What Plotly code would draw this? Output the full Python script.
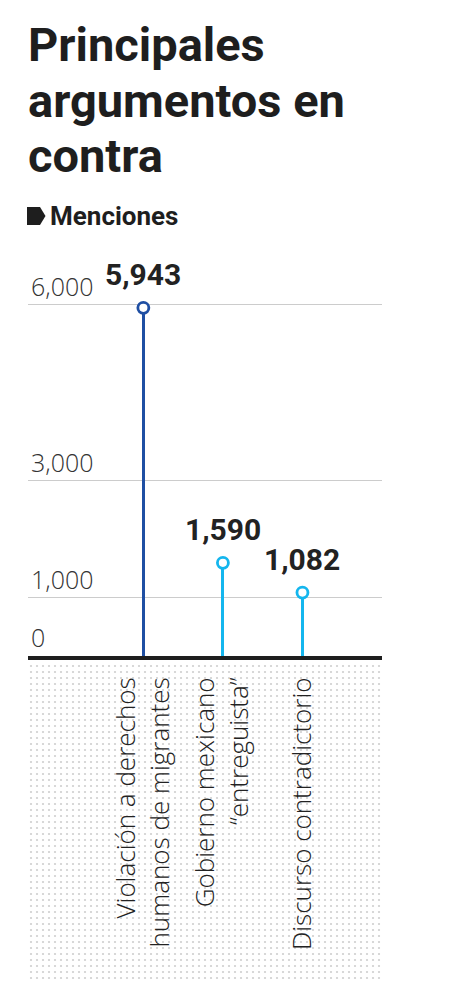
import plotly.graph_objects as go

# ---- data ----
categories = ["Violación a derechos humanos de migrantes",
              "Gobierno mexicano “entreguista”",
              "Discurso contradictorio"]
tick_labels = ["Violación a derechos<br>humanos de migrantes",
               "Gobierno mexicano<br>“entreguista”",
               "Discurso contradictorio"]
menciones = [5943, 1590, 1082]
colors = ["#1f4fa3", "#14b6ee", "#14b6ee"]
y_tickvals = [0, 1000, 3000, 6000]
title_lines = ["Principales", "argumentos en", "contra"]

# page body has an 8px margin: figure is sized to fit the window
OFF = 8
W, H = 450 - OFF, 1007 - OFF
def px(x): return (x - OFF) / W
def py(y): return 1 - (y - OFF) / H

LIGHT = "Open Sans"
BOLD = "Roboto"

fig = go.Figure()

# decorative dotted panel under the axis (first subplot so labels draw above it)
fig.add_trace(go.Bar(x=[0], y=[1], width=[1], xaxis="x", yaxis="y",
                     marker=dict(color="white", line=dict(width=0),
                                 pattern=dict(shape=".", size=6, solidity=0.1,
                                              fgcolor="#cfcfcf", bgcolor="white",
                                              fillmode="replace")),
                     hoverinfo="skip", showlegend=False))

# stems
fig.add_trace(go.Bar(x=categories, y=menciones, width=0.04, xaxis="x2", yaxis="y2",
                     marker=dict(color=colors, line=dict(width=0)),
                     hoverinfo="skip", showlegend=False))
# heads
fig.add_trace(go.Scatter(x=categories, y=menciones, mode="markers", xaxis="x2", yaxis="y2",
                         marker=dict(symbol="circle", size=11, color="white",
                                     line=dict(width=2.8, color=colors)),
                         showlegend=False))

for c, v in zip(categories, menciones):
    fig.add_annotation(x=c, y=v, xref="x2", yref="y2", text=f"{v:,}",
                       showarrow=False, yanchor="bottom", yshift=14,
                       font=dict(family=BOLD, size=30, color="#222222", weight="bold"))

# title lines
for line, yc in zip(title_lines, [45, 100, 155]):
    fig.add_annotation(x=px(26), y=py(yc), xref="paper", yref="paper", text=line,
                       showarrow=False, xanchor="left", yanchor="middle",
                       font=dict(family=BOLD, size=47, color="#1e1e1e", weight="bold"))

# legend label
fig.add_annotation(x=px(48), y=py(216), xref="paper", yref="paper", text="Menciones",
                   showarrow=False, xanchor="left", yanchor="middle",
                   font=dict(family=BOLD, size=26, color="#1e1e1e", weight="bold"))
path = (f"M {px(27)},{py(207)} L {px(40)},{py(207)} L {px(45.5)},{py(216)} "
        f"L {px(40)},{py(225)} L {px(27)},{py(225)} Z")
fig.add_shape(type="path", path=path, xref="paper", yref="paper",
              fillcolor="#1e1e1e", line=dict(width=0))

x0, x1 = px(28), px(382)
fig.update_layout(
    width=W, height=H, margin=dict(l=0, r=0, t=0, b=0),
    paper_bgcolor="white", plot_bgcolor="rgba(0,0,0,0)",
    showlegend=False, bargap=0,
    xaxis=dict(domain=[x0, x1], range=[-0.5, 0.5], visible=False, fixedrange=True),
    yaxis=dict(domain=[py(982), py(663)], range=[0, 1], visible=False, fixedrange=True),
    xaxis2=dict(domain=[x0, x1], anchor="y2", range=[-1.45, 3.0],
                tickvals=categories, ticktext=tick_labels, tickangle=-90,
                tickfont=dict(family=LIGHT, size=26, color="#222222", weight=300),
                showline=True, linewidth=4, linecolor="#1e1e1e",
                showgrid=False, ticks="", ticklabelstandoff=7),
    yaxis2=dict(domain=[py(656), py(260)], anchor="x2", range=[0, 6760],
                tickvals=y_tickvals, tickformat=",d",
                ticklabelposition="inside top", ticklabelstandoff=0,
                tickfont=dict(family=LIGHT, size=25, color="#333333", weight=300),
                showgrid=True, gridcolor="#cccccc", gridwidth=1.2,
                zeroline=False, showline=False, ticks=""),
)

fig.write_html("out.html")
